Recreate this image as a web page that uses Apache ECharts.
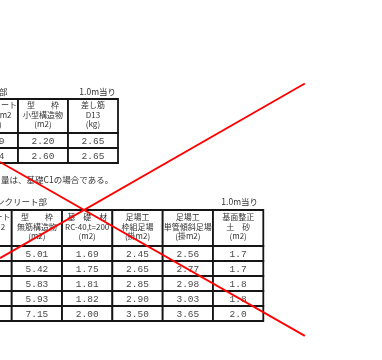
<!DOCTYPE html>
<html><head><meta charset="utf-8">
<script src="https://cdn.jsdelivr.net/npm/echarts@6/dist/echarts.min.js"></script>
<style>html,body{margin:0;padding:0;background:#fff}#c{width:382px;height:360px}</style>
</head><body><div id="c"></div>
<script>
// ---- Table 1 (top) ----
const t1Columns = ['コンクリート', '型枠 小型構造物', '差し筋 D13'];
const t1Header = [
  ['コンクリート', '18N/mm2', '(m3)'],
  ['型　　枠', '小型構造物', '(m2)'],
  ['差し筋', 'D13', '(kg)']
];
const t1Rows = ['1', '2'];
const t1Concrete = ['0.19', '0.24'];
const t1Katawaku = [2.20, 2.60];
const t1Sashikin = [2.65, 2.65];

// ---- Table 2 (bottom) ----
const t2Columns = ['コンクリート', '型枠 無筋構造物', '基礎材', '足場工 枠組足場', '足場工 単管傾斜足場', '基面整正 土砂'];
const t2Header = [
  ['コンクリート', '18N/mm2', '(m3)'],
  ['型　　枠', '無筋構造物', '(m2)'],
  ['基　礎　材', 'RC-40,t=200', '(m2)'],
  ['足場工', '枠組足場', '(掛m2)'],
  ['足場工', '単管傾斜足場', '(掛m2)'],
  ['基面整正', '土　砂', '(m2)']
];
const t2Rows = ['1', '2', '3', '4', '5'];
const t2Concrete = ['', '', '', '', ''];
const t2Katawaku = [5.01, 5.42, 5.83, 5.93, 7.15];
const t2Kiso = [1.69, 1.75, 1.81, 1.82, 2.00];
const t2Waku = [2.45, 2.65, 2.85, 2.90, 3.50];
const t2Tankan = [2.56, 2.77, 2.98, 3.03, 3.65];
const t2Kimen = [1.7, 1.7, 1.8, 1.8, 2.0];

// ---- Red cross (percent of chart area) ----
const crossLine1 = [[79.8, 23.2], [0, 71.7]];
const crossLine2 = [[0, 45.0], [79.8, 93.3]];

// ---- Texts around tables ----
const noteTexts = ['部', '1.0m当り', '量は、基礎C1の場合である。', 'ンクリート部', '1.0m当り'];

const JP = '"Noto Sans CJK JP"';
const HEAD_FONT = 'normal 8px ' + JP;
const NUM_FONT = 'normal 9.5px "Liberation Mono"';

function fmt(v, d) { return typeof v === 'number' ? v.toFixed(d) : v; }

function headerCells(header) {
  return header.map((lines, c) => ({ value: [c, 0], text: lines.join('\n'), font: HEAD_FONT, color: '#333', lh: 9.5, dy: -1.5 }));
}
function bodyCells(columns, decimals) {
  const cells = [];
  columns.forEach((col, c) => {
    col.forEach((v, r) => {
      cells.push({ value: [c, r], text: fmt(v, decimals[c]), font: NUM_FONT, color: '#4a4a4a', lh: 10, dy: 0.5 });
    });
  });
  return cells;
}

function cellSeries(cells, gridIdx) {
  return {
    type: 'custom',
    xAxisIndex: gridIdx, yAxisIndex: gridIdx,
    data: cells.map(c => c.value),
    clip: false,
    silent: true,
    renderItem: function (params, api) {
      const cell = cells[params.dataIndex];
      const p = api.coord([api.value(0), api.value(1)]);
      const s = api.size([1, 1]);
      return {
        type: 'group',
        children: [
          { type: 'rect', shape: { x: p[0] - s[0] / 2, y: p[1] - s[1] / 2, width: s[0], height: s[1] },
            style: { fill: '#fff', stroke: '#151515', lineWidth: 1.8 } },
          { type: 'text', style: { text: cell.text, x: p[0], y: p[1] + cell.dy, align: 'center', verticalAlign: 'middle',
            font: cell.font, fill: cell.color, lineHeight: cell.lh } }
        ]
      };
    }
  };
}

// Tables are cut at the left edge of the picture: the x axes start part-way into column 0.
const t1XMin = 0.14, t1XMax = 2.5;
const t2XMin = 0.267, t2XMax = 5.5;

const grids = [
  { left: 0, top: 99, width: 118, height: 34 },
  { left: 0, top: 133, width: 118, height: 30 },
  { left: 0, top: 210, width: 263.3, height: 36 },
  { left: 0, top: 246, width: 263.3, height: 75 },
  { left: 0, top: 0, width: 382, height: 360 }
];

const xAxes = [
  { gridIndex: 0, type: 'value', min: t1XMin, max: t1XMax, show: false },
  { gridIndex: 1, type: 'value', min: t1XMin, max: t1XMax, show: false },
  { gridIndex: 2, type: 'value', min: t2XMin, max: t2XMax, show: false },
  { gridIndex: 3, type: 'value', min: t2XMin, max: t2XMax, show: false },
  { gridIndex: 4, type: 'value', min: 0, max: 100, show: false }
];
const yAxes = [
  { gridIndex: 0, type: 'category', data: ['h'], inverse: true, show: false },
  { gridIndex: 1, type: 'category', data: t1Rows, inverse: true, show: false },
  { gridIndex: 2, type: 'category', data: ['h'], inverse: true, show: false },
  { gridIndex: 3, type: 'category', data: t2Rows, inverse: true, show: false },
  { gridIndex: 4, type: 'value', min: 0, max: 100, inverse: true, show: false }
];

const tFont = { fontFamily: 'Noto Sans CJK JP', fontSize: 8.5, color: '#333', fontWeight: 'normal' };
const titles = [
  { text: noteTexts[0], left: -1, top: 88, padding: 0, textStyle: tFont },
  { text: noteTexts[1], right: 266, top: 88, padding: 0, textStyle: tFont },
  { text: noteTexts[2], left: 1, top: 176, padding: 0, textStyle: tFont },
  { text: noteTexts[3], left: -4, top: 198, padding: 0, textStyle: tFont },
  { text: noteTexts[4], right: 124, top: 198, padding: 0, textStyle: tFont }
];

const chart = echarts.init(document.getElementById('c'), null, { renderer: 'canvas' });
chart.setOption({
  animation: false,
  backgroundColor: '#fff',
  title: titles,
  grid: grids,
  xAxis: xAxes,
  yAxis: yAxes,
  series: [
    cellSeries(headerCells(t1Header), 0),
    cellSeries(bodyCells([t1Concrete, t1Katawaku, t1Sashikin], [2, 2, 2]), 1),
    cellSeries(headerCells(t2Header), 2),
    cellSeries(bodyCells([t2Concrete, t2Katawaku, t2Kiso, t2Waku, t2Tankan, t2Kimen], [2, 2, 2, 2, 2, 1]), 3),
    { type: 'line', xAxisIndex: 4, yAxisIndex: 4, data: crossLine1, symbol: 'none', silent: true, z: 10,
      lineStyle: { color: '#ff0000', width: 1.8 } },
    { type: 'line', xAxisIndex: 4, yAxisIndex: 4, data: crossLine2, symbol: 'none', silent: true, z: 10,
      lineStyle: { color: '#ff0000', width: 1.8 } }
  ]
});
</script></body></html>
